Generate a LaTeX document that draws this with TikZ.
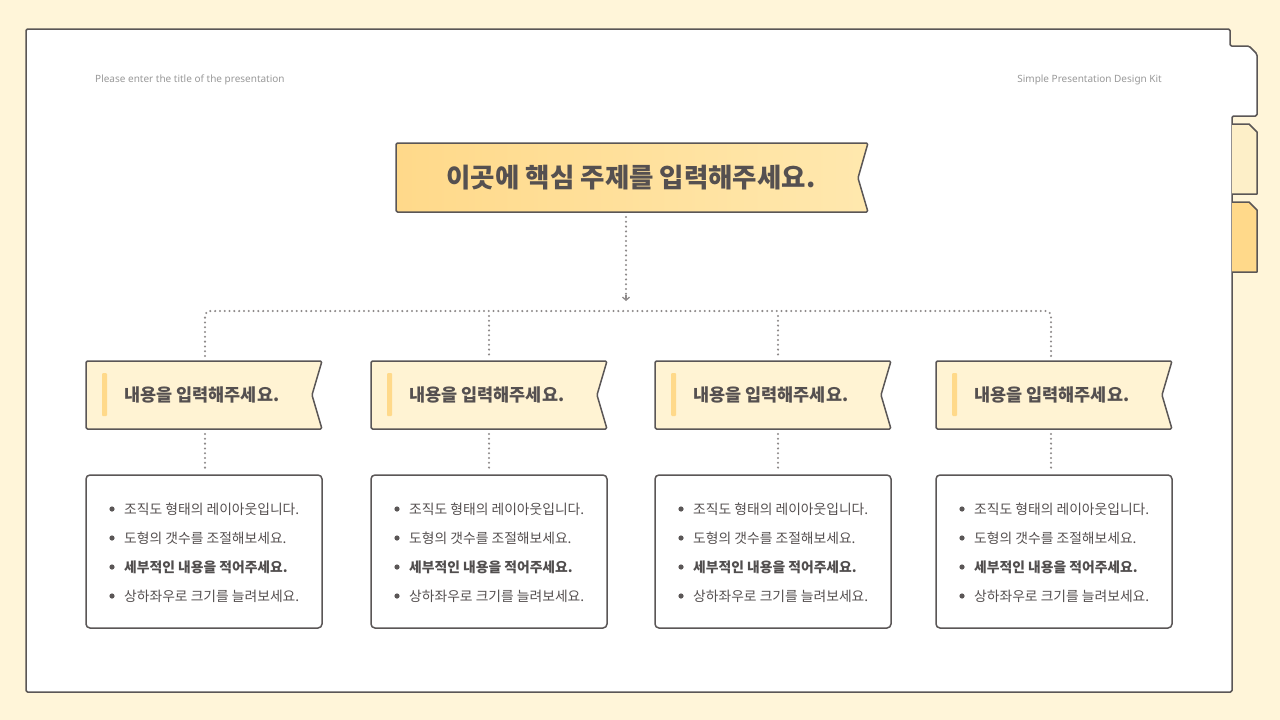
\documentclass[tikz,border=0pt]{standalone}
\usepackage{fontspec}
\setmainfont{Noto Sans}
\newfontfamily\kr{Noto Sans CJK KR}
\usetikzlibrary{arrows.meta}
\definecolor{bgc}{HTML}{FFF5D9}
\definecolor{ln}{HTML}{5A5656}
\definecolor{txt}{HTML}{555050}
\definecolor{ya}{HTML}{FFD98A}
\definecolor{yb}{HTML}{FFE8AE}
\definecolor{yl}{HTML}{FFF3D3}
\definecolor{yt}{HTML}{FDEFC8}
\definecolor{dotc}{HTML}{8E8A8A}
\tikzset{x=1pt,y=-1pt,
 frame/.style={draw=ln,line width=1.5pt,line join=round},
 dots/.style={draw=dotc,line width=2.3pt,dash pattern=on 0pt off 4.8pt,line cap=round},
 btxt/.style={text=txt,font=\kr\fontsize{13.8}{16}\selectfont,anchor=west,inner sep=0pt},
}
\begin{document}
\begin{tikzpicture}
\useasboundingbox (0,0) rectangle (1280,720);
\fill[bgc] (0,0) rectangle (1280,720);
% panel
\filldraw[frame,fill=white,rounded corners=1.5pt] (26,29) -- (1230,29) -- (1230,46) -- (1249,46) -- (1257,54) -- (1257,116) -- (1232,116) -- (1232,692) -- (26,692) -- cycle;
\filldraw[frame,fill=yt] (1232,124) -- (1249,124) -- (1257,132) -- (1257,194) -- (1232,194);
\filldraw[frame,fill=ya] (1232,202) -- (1249,202) -- (1257,210) -- (1257,272) -- (1232,272);
\node[font=\fontsize{10}{12}\selectfont,text=gray!80,anchor=west,inner sep=0pt] (hl) at (95,80) {Please enter the title of the presentation};
\node[font=\fontsize{10}{12}\selectfont,text=gray!80,anchor=east,inner sep=0pt] (hr) at (1162,80) {Simple Presentation Design Kit};
% main title
\draw[frame,left color=ya,right color=yb,rounded corners=1.5pt] (396,143) -- (868,143) -- (858,178) -- (868,212) -- (396,212) -- cycle;
\node[text=txt,font=\kr\bfseries\fontsize{26.5}{30}\selectfont,inner sep=0pt] (title) at (631,178) {이곳에 핵심 주제를 입력해주세요.};
\coordinate (tb) at (626,217);
\coordinate (ta) at (626,296);
\draw[dots] (tb) -- (ta);
\draw[dotc,line width=1.3pt,-{Straight Barb[length=3pt,width=7pt]}] (626,295) -- (626,301);
\coordinate (h1) at (205,311);
\coordinate (h4) at (1051,311);
\draw[dots,rounded corners=5pt] (205,356) -- (h1) -- (h4) -- (1051,356);
\foreach \cx in {489,778}{\draw[dots] (\cx,316) -- (\cx,356);}
\foreach \x/\n/\cx in {86/a/205,371/b/489,655/c/778,936/d/1051}{
  \draw[frame,fill=yl,rounded corners=1.5pt] (\x,361) -- (\x+236,361) -- (\x+226,395) -- (\x+236,429) -- (\x,429) -- cycle;
  \fill[ya,rounded corners=1pt] (\x+16,373) rectangle (\x+21,416);
  \node[text=txt,font=\kr\bfseries\fontsize{17.5}{20}\selectfont,anchor=west,inner sep=0pt] (s\n) at (\x+38,395) {내용을 입력해주세요.};
  \draw[dots] (\cx,434) -- (\cx,471);
  \draw[frame,fill=white,rounded corners=4pt] (\x,475) rectangle (\x+236,628);
  \foreach \yy in {509,538,567,596}{\fill[ln] (\x+26,\yy) circle (2.6pt);}
  \node[btxt] (p1\n) at (\x+38,509) {조직도 형태의 레이아웃입니다.};
  \node[btxt] (p2\n) at (\x+38,538) {도형의 갯수를 조절해보세요.};
  \node[btxt,font=\kr\bfseries\fontsize{13.8}{16}\selectfont,text=ln!90!black] (p3\n) at (\x+38,567) {세부적인 내용을 적어주세요.};
  \node[btxt] (p4\n) at (\x+38,596) {상하좌우로 크기를 늘려보세요.};
}
\end{tikzpicture}
\end{document}
